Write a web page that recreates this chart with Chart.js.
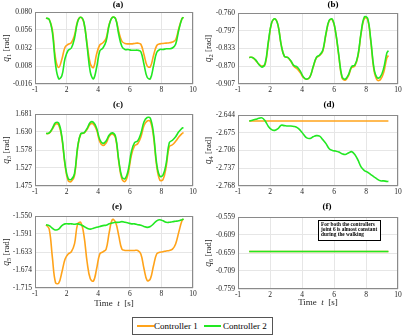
<!DOCTYPE html>
<html><head><meta charset="utf-8">
<script src="https://cdn.jsdelivr.net/npm/chart.js@4.4.1/dist/chart.umd.min.js"></script>
<style>
html,body{margin:0;padding:0;background:#fff;width:404px;height:335px;overflow:hidden;position:relative;}
canvas.pane{position:absolute;}
#legend{position:absolute;left:132px;top:317px;width:139px;height:16px;border:1px solid #555;background:#fff;
 font-family:"Liberation Serif","DejaVu Serif",serif;font-size:9px;color:#000;}
#legend .ln{position:absolute;top:7px;height:1.6px;}
#legend .tx{position:absolute;top:2px;line-height:12px;white-space:nowrap;}
</style></head><body>
<canvas id="ca" class="pane" width="202" height="100" style="left:0;top:0"></canvas>
<canvas id="cb" class="pane" width="202" height="100" style="left:202px;top:0"></canvas>
<canvas id="cc" class="pane" width="202" height="100" style="left:0;top:100px"></canvas>
<canvas id="cd" class="pane" width="202" height="100" style="left:202px;top:100px"></canvas>
<canvas id="ce" class="pane" width="202" height="112" style="left:0;top:200px"></canvas>
<canvas id="cf" class="pane" width="202" height="112" style="left:202px;top:200px"></canvas>
<div id="legend"></div>
<script>
// ---------- data ----------
const seriesNames = ['Controller 1', 'Controller 2'];
const time = [0.7,0.9,1.1,1.3,1.5, 1.7,1.9,2.1,2.3,2.5, 2.7,2.9,3.1,3.3,3.5, 3.7,3.9,4.1,4.3,4.5,
              4.7,4.9,5.1,5.3,5.5, 5.7,5.9,6.1,6.3,6.5, 6.7,6.9,7.1,7.3,7.5, 7.7,7.9,8.1,8.3,8.5,
              8.7,8.9,9.1,9.3, 9.4];
const xTickValues = [0, 2, 4, 6, 8, 10];
const xTickLabels = ['-1', '2', '4', '6', '8', '10'];

const q1Ticks = ['-0.016', '0.008', '0.032', '0.056', '0.080'];
const q2Ticks = ['-0.907', '-0.870', '-0.833', '-0.797', '-0.760'];
const q3Ticks = ['1.475', '1.527', '1.578', '1.630', '1.681'];
const q4Ticks = ['-2.768', '-2.737', '-2.706', '-2.675', '-2.644'];
const q5Ticks = ['-1.715', '-1.674', '-1.633', '-1.591', '-1.550'];
const q6Ticks = ['-0.759', '-0.709', '-0.659', '-0.609', '-0.559'];

const q1Ctrl1 = [0.072,0.070,0.056,0.018,0.006, 0.017,0.033,0.037,0.039,0.049, 0.068,0.073,0.065,0.037,0.011,
                 0.006,0.024,0.036,0.039,0.045, 0.064,0.073,0.071,0.054,0.041, 0.038,0.0375,0.0375,0.038,0.0385,
                 0.037,0.023,0.008,0.007,0.022, 0.035,0.0375,0.038,0.0385,0.039, 0.040,0.043,0.058,0.071, 0.073];
const q1Ctrl2 = [0.072,0.070,0.053,0.010,-0.009, -0.005,0.018,0.029,0.032,0.045, 0.067,0.073,0.066,0.034,0.000,
                 -0.009,0.006,0.028,0.032,0.041, 0.063,0.073,0.071,0.050,0.034, 0.030,0.030,0.029,0.029,0.029,
                 0.027,0.010,-0.007,-0.009,0.008, 0.026,0.030,0.030,0.031,0.031, 0.032,0.037,0.056,0.071, 0.073];

const q2Ctrl1 = [-0.852,-0.852,-0.858,-0.866,-0.870, -0.866,-0.821,-0.781,-0.772,-0.785, -0.826,-0.850,-0.852,-0.860,-0.871,
                 -0.876,-0.884,-0.894,-0.897,-0.892, -0.872,-0.853,-0.848,-0.839,-0.804, -0.776,-0.774,-0.800,-0.849,-0.894,
                 -0.899,-0.890,-0.873,-0.870,-0.849, -0.801,-0.771,-0.773,-0.819,-0.879, -0.899,-0.898,-0.884,-0.853, -0.848];
const q2Ctrl2 = [-0.852,-0.852,-0.857,-0.866,-0.872, -0.864,-0.819,-0.780,-0.772,-0.785, -0.826,-0.850,-0.852,-0.859,-0.869,
                 -0.872,-0.881,-0.893,-0.897,-0.892, -0.871,-0.852,-0.847,-0.837,-0.802, -0.775,-0.773,-0.799,-0.847,-0.892,
                 -0.897,-0.888,-0.871,-0.868,-0.847, -0.799,-0.768,-0.771,-0.816,-0.875, -0.894,-0.892,-0.875,-0.843, -0.838];

const q3Ctrl1 = [1.625,1.626,1.638,1.652,1.650, 1.612,1.535,1.490,1.488,1.505, 1.585,1.624,1.626,1.637,1.652,
                 1.652,1.635,1.602,1.591,1.598, 1.617,1.624,1.612,1.545,1.495, 1.488,1.512,1.563,1.590,1.596,
                 1.615,1.648,1.661,1.660,1.617, 1.532,1.492,1.493,1.530,1.588, 1.593,1.603,1.615,1.625, 1.628];
const q3Ctrl2 = [1.625,1.627,1.640,1.656,1.655, 1.616,1.539,1.496,1.494,1.510, 1.587,1.625,1.627,1.640,1.657,
                 1.657,1.640,1.608,1.597,1.604, 1.621,1.627,1.616,1.549,1.501, 1.496,1.520,1.573,1.599,1.604,
                 1.625,1.659,1.671,1.669,1.625, 1.539,1.503,1.506,1.539,1.599, 1.606,1.616,1.630,1.640, 1.642];

const q4Ctrl1 = [-2.6545,-2.6545,-2.6545,-2.6545,-2.6545, -2.6545,-2.6545,-2.6545,-2.6545,-2.6545, -2.6545,-2.6545,-2.6545,-2.6545,-2.6545,
                 -2.6545,-2.6545,-2.6545,-2.6545,-2.6545, -2.6545,-2.6545,-2.6545,-2.6545,-2.6545, -2.6545,-2.6545,-2.6545,-2.6545,-2.6545,
                 -2.6545,-2.6545,-2.6545,-2.6545,-2.6545, -2.6545,-2.6545,-2.6545,-2.6545,-2.6545, -2.6545,-2.6545,-2.6545,-2.6545, -2.6545];
const q4Ctrl2 = [-2.6545,-2.653,-2.6516,-2.6498,-2.649, -2.6545,-2.664,-2.6696,-2.6708,-2.668, -2.662,-2.6626,-2.6632,-2.6632,-2.664,
                 -2.666,-2.671,-2.678,-2.684,-2.685, -2.682,-2.680,-2.681,-2.687,-2.694, -2.703,-2.706,-2.707,-2.7086,-2.7115,
                 -2.713,-2.7103,-2.708,-2.713,-2.723, -2.735,-2.741,-2.744,-2.748,-2.752, -2.756,-2.759,-2.759,-2.760, -2.760];

const q5Ctrl1 = [-1.570,-1.580,-1.645,-1.703,-1.704, -1.679,-1.649,-1.637,-1.632,-1.614, -1.568,-1.565,-1.595,-1.656,-1.694,
                 -1.699,-1.671,-1.637,-1.632,-1.626, -1.587,-1.558,-1.5645,-1.595,-1.626, -1.629,-1.629,-1.629,-1.629,-1.629,
                 -1.637,-1.671,-1.698,-1.694,-1.664, -1.637,-1.633,-1.632,-1.630,-1.629, -1.626,-1.614,-1.587,-1.561, -1.557];
const q5Ctrl2 = [-1.570,-1.572,-1.578,-1.582,-1.580, -1.572,-1.568,-1.568,-1.568,-1.569, -1.568,-1.570,-1.574,-1.578,-1.580,
                 -1.578,-1.576,-1.574,-1.572,-1.571, -1.568,-1.566,-1.5645,-1.5645,-1.563, -1.5645,-1.566,-1.568,-1.568,-1.570,
                 -1.571,-1.574,-1.576,-1.574,-1.568, -1.561,-1.5585,-1.561,-1.5645,-1.5645, -1.563,-1.562,-1.561,-1.5585, -1.557];

const q6Ctrl1 = [-0.655,-0.655,-0.655,-0.655,-0.655, -0.655,-0.655,-0.655,-0.655,-0.655, -0.655,-0.655,-0.655,-0.655,-0.655,
                 -0.655,-0.655,-0.655,-0.655,-0.655, -0.655,-0.655,-0.655,-0.655,-0.655, -0.655,-0.655,-0.655,-0.655,-0.655,
                 -0.655,-0.655,-0.655,-0.655,-0.655, -0.655,-0.655,-0.655,-0.655,-0.655, -0.655,-0.655,-0.655,-0.655, -0.655];
const q6Ctrl2 = [-0.655,-0.655,-0.655,-0.655,-0.655, -0.655,-0.655,-0.655,-0.655,-0.655, -0.655,-0.655,-0.655,-0.655,-0.655,
                 -0.655,-0.655,-0.655,-0.655,-0.655, -0.655,-0.655,-0.655,-0.655,-0.655, -0.655,-0.655,-0.655,-0.655,-0.655,
                 -0.655,-0.655,-0.655,-0.655,-0.655, -0.655,-0.655,-0.655,-0.655,-0.655, -0.655,-0.655,-0.655,-0.655, -0.655];

const noteLines = ['For both the controllers', 'joint 6 is almost constant', 'during the walking'];

// ---------- style ----------
const SERIF = '"Liberation Serif","DejaVu Serif",serif';
const ORANGE = '#FFA31A';
const GREEN = '#22E822';
const TXT = '#262626';

const decor = {
  id: 'decor',
  afterDraw(chart, args, o) {
    const ctx = chart.ctx, a = chart.chartArea;
    ctx.save();
    // axes box
    ctx.strokeStyle = '#8a8a8a'; ctx.lineWidth = 1;
    ctx.strokeRect(Math.round(a.left) + 0.5, Math.round(a.top) + 0.5,
                   Math.round(a.right) - Math.round(a.left) - 1, Math.round(a.bottom) - Math.round(a.top) - 1);
    // title
    ctx.fillStyle = '#000';
    ctx.font = 'bold 9px ' + SERIF;
    ctx.textAlign = 'center'; ctx.textBaseline = 'middle';
    ctx.fillText(o.title, o.tx, o.ty);
    // y label
    ctx.save();
    ctx.translate(o.ylx, (a.top + a.bottom) / 2);
    ctx.rotate(-Math.PI / 2);
    ctx.textAlign = 'left'; ctx.textBaseline = 'alphabetic'; ctx.fillStyle = TXT;
    const parts = [['q', 'italic 9.5px ' + SERIF, 0], [o.sub, '6.5px ' + SERIF, 2], [' [rad]', '9px ' + SERIF, 0]];
    let w = 0; parts.forEach(p => { ctx.font = p[1]; w += ctx.measureText(p[0]).width; });
    let cx = -w / 2;
    parts.forEach(p => { ctx.font = p[1]; ctx.fillText(p[0], cx, p[2]); cx += ctx.measureText(p[0]).width; });
    ctx.restore();
    // x label
    if (o.xlabel) {
      const xp = [['Time  ', '9px ' + SERIF], ['t', 'italic 9px ' + SERIF], ['  [s]', '9px ' + SERIF]];
      ctx.textAlign = 'left'; ctx.textBaseline = 'middle'; ctx.fillStyle = TXT;
      let ww = 0; xp.forEach(p => { ctx.font = p[1]; ww += ctx.measureText(p[0]).width; });
      let xx = o.xlx - ww / 2;
      xp.forEach(p => { ctx.font = p[1]; ctx.fillText(p[0], xx, o.xly); xx += ctx.measureText(p[0]).width; });
    }
    // note
    if (o.note) {
      ctx.fillStyle = '#fff';
      ctx.fillRect(116.5, 20.5, 62, 20);
      ctx.strokeStyle = '#000'; ctx.lineWidth = 1;
      ctx.strokeRect(116.5, 20.5, 62, 20);
      ctx.fillStyle = '#000'; ctx.font = 'bold 5.3px ' + SERIF;
      ctx.textAlign = 'left'; ctx.textBaseline = 'middle';
      o.note.forEach((t, i) => ctx.fillText(t, 119, 24.5 + i * 5.3));
    }
    ctx.restore();
  }
};

const panels = [
  {id: 'ca', c1: q1Ctrl1, c2: q1Ctrl2, yt: q1Ticks, g: {L: 35, R: 193, T: 12, B: 84, H: 100}, d: {title: '(a)', tx: 118, ty: 5, sub: '1', ylx: 8.5}},
  {id: 'cb', c1: q2Ctrl1, c2: q2Ctrl2, yt: q2Ticks, g: {L: 36, R: 196, T: 13, B: 84, H: 100}, d: {title: '(b)', tx: 131, ty: 4.5, sub: '2', ylx: 8.5}},
  {id: 'cc', c1: q3Ctrl1, c2: q3Ctrl2, yt: q3Ticks, g: {L: 35, R: 193, T: 14, B: 86, H: 100}, d: {title: '(c)', tx: 118, ty: 4.5, sub: '3', ylx: 8.5}},
  {id: 'cd', c1: q4Ctrl1, c2: q4Ctrl2, yt: q4Ticks, g: {L: 36, R: 196, T: 15, B: 86, H: 100}, d: {title: '(d)', tx: 127, ty: 5, sub: '4', ylx: 8.5}},
  {id: 'ce', c1: q5Ctrl1, c2: q5Ctrl2, yt: q5Ticks, g: {L: 35, R: 193, T: 16, B: 88, H: 112}, d: {title: '(e)', tx: 117, ty: 7, sub: '5', ylx: 8.5, xlabel: true, xlx: 114, xly: 104}},
  {id: 'cf', c1: q6Ctrl1, c2: q6Ctrl2, yt: q6Ticks, g: {L: 36, R: 196, T: 17, B: 89, H: 112}, d: {title: '(f)', tx: 125, ty: 6.5, sub: '6', ylx: 8.5, xlabel: true, xlx: 116, xly: 103, note: noteLines}}
];

function build(p) {
  const yv = p.yt.map(Number);
  const g = p.g;
  return new Chart(document.getElementById(p.id), {
    type: 'line',
    data: {
      datasets: [
        {label: seriesNames[1], data: time.map((t, i) => ({x: t, y: p.c2[i]})), borderColor: GREEN, order: 0},
        {label: seriesNames[0], data: time.map((t, i) => ({x: t, y: p.c1[i]})), borderColor: ORANGE, order: 1}
      ]
    },
    options: {
      responsive: false, animation: false, devicePixelRatio: 1,
      layout: {padding: {left: 0, top: g.T, right: 202 - g.R, bottom: 0}},
      elements: {point: {radius: 0}, line: {borderWidth: 1.6, tension: 0.4, fill: false}},
      plugins: {legend: {display: false}, tooltip: {enabled: false}, decor: p.d},
      scales: {
        x: {
          type: 'linear', min: 0, max: 10,
          afterBuildTicks: s => { s.ticks = xTickValues.map(v => ({value: v})); },
          afterFit: s => { s.height = g.H - g.B; },
          ticks: {callback: (v, i) => xTickLabels[i], font: {family: SERIF, size: 7.5}, color: TXT, maxRotation: 0, autoSkip: false, padding: 2},
          grid: {color: '#e6e6e6', drawTicks: false},
          border: {display: false}
        },
        y: {
          type: 'linear', min: yv[0], max: yv[yv.length - 1],
          afterBuildTicks: s => { s.ticks = yv.map(v => ({value: v})); },
          afterFit: s => { s.width = g.L; },
          ticks: {callback: (v, i) => p.yt[i], font: {family: SERIF, size: 7.5}, color: TXT, autoSkip: false, padding: 3},
          grid: {color: '#e6e6e6', drawTicks: false},
          border: {display: false}
        }
      }
    },
    plugins: [decor]
  });
}
panels.forEach(build);

// legend
const lg = document.getElementById('legend');
const items = [
  {name: seriesNames[0], color: ORANGE, line: 4, text: 21},
  {name: seriesNames[1], color: GREEN, line: 71, text: 90}
];
items.forEach(it => {
  const l = document.createElement('span'); l.className = 'ln';
  l.style.left = it.line + 'px'; l.style.width = '17px'; l.style.background = it.color;
  const t = document.createElement('span'); t.className = 'tx';
  t.style.left = it.text + 'px'; t.textContent = it.name;
  lg.appendChild(l); lg.appendChild(t);
});
</script>
</body></html>
